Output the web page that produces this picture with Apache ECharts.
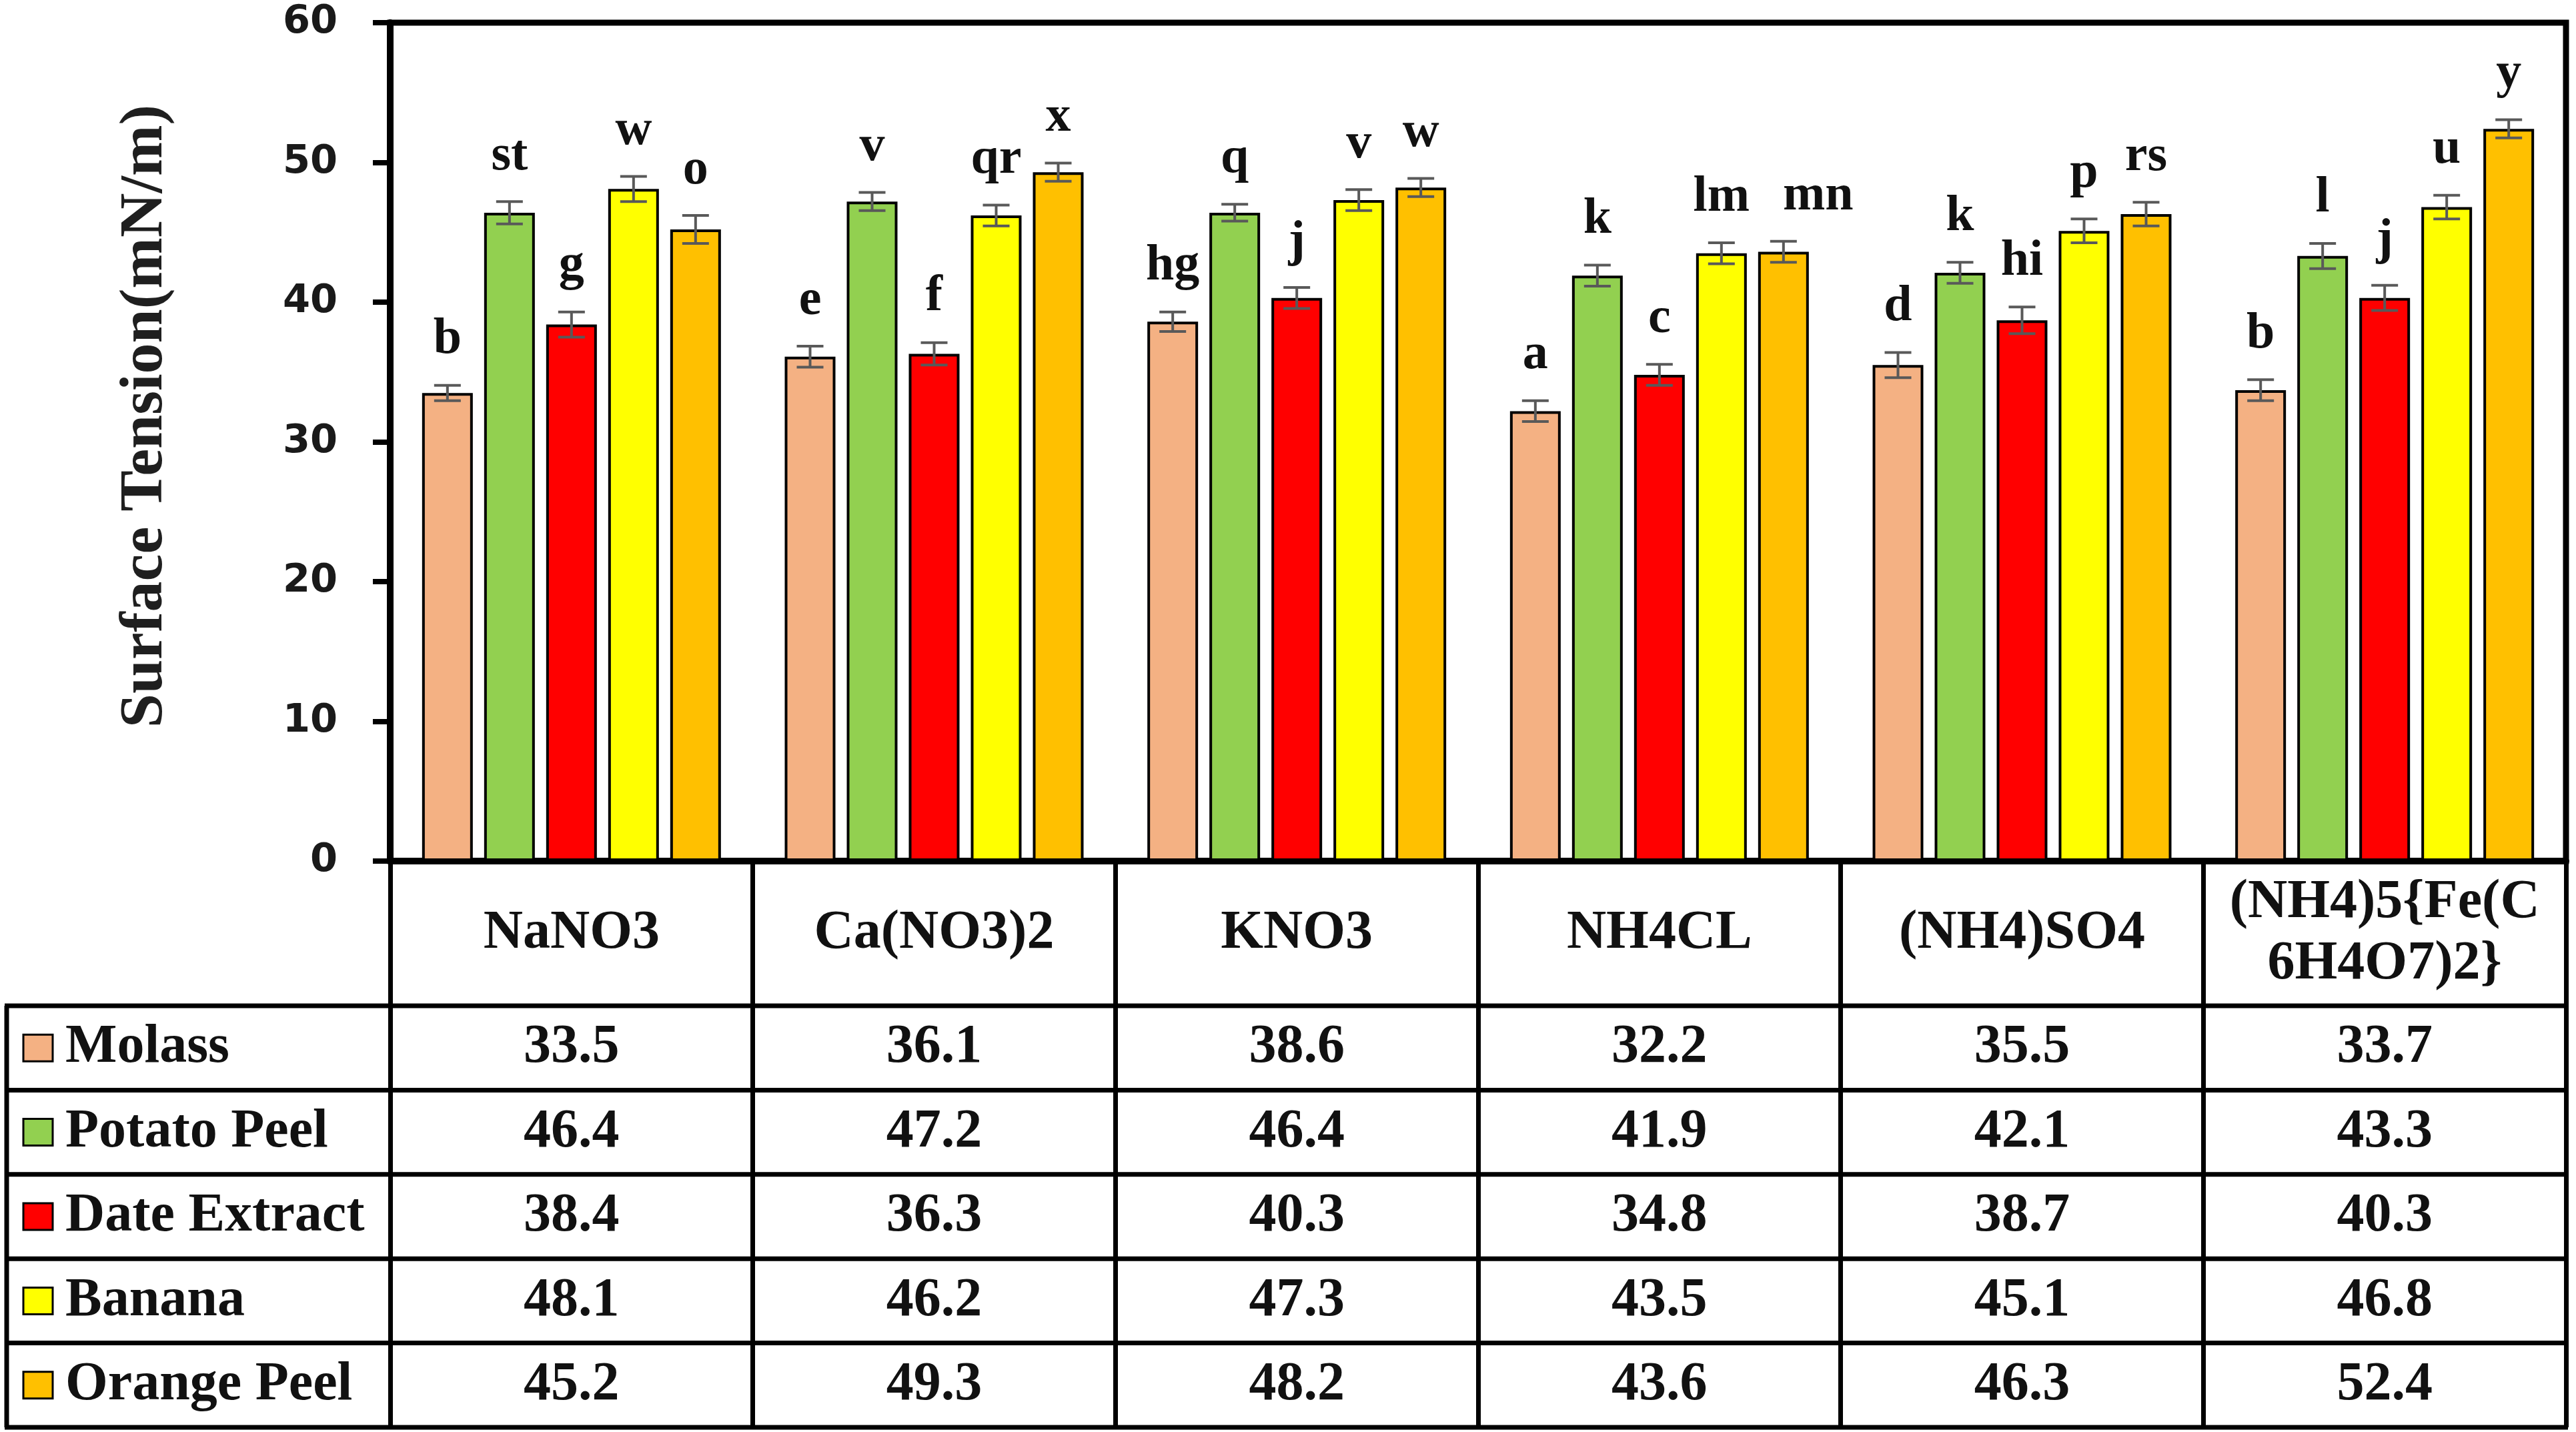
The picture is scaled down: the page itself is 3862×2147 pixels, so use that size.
<!DOCTYPE html>
<html>
<head>
<meta charset="utf-8">
<title>Surface Tension</title>
<script src="https://cdn.jsdelivr.net/npm/echarts@6/dist/echarts.min.js"></script>
<style>
  html, body { margin: 0; padding: 0; background: #fff; }
  #chart { width: 3862px; height: 2147px; }
</style>
</head>
<body>
<div id="chart"></div>
<script>
// data
const categories = ['NaNO3', 'Ca(NO3)2', 'KNO3', 'NH4CL', '(NH4)SO4', '(NH4)5{Fe(C6H4O7)2}'];
const seriesNames = ['Molass', 'Potato Peel', 'Date Extract', 'Banana', 'Orange Peel'];
const colors = ['#F4B183', '#92D050', '#FF0000', '#FFFF00', '#FFC000'];

const molass      = [33.5, 36.1, 38.6, 32.2, 35.5, 33.7];
const potatoPeel  = [46.4, 47.2, 46.4, 41.9, 42.1, 43.3];
const dateExtract = [38.4, 36.3, 40.3, 34.8, 38.7, 40.3];
const banana      = [48.1, 46.2, 47.3, 43.5, 45.1, 46.8];
const orangePeel  = [45.2, 49.3, 48.2, 43.6, 46.3, 52.4];

// error bars (half length)
const errMolass = [0.55, 0.75, 0.7, 0.75, 0.9, 0.75];
const errPotato = [0.8, 0.65, 0.6, 0.75, 0.75, 0.9];
const errDate   = [0.9, 0.8, 0.75, 0.75, 0.95, 0.9];
const errBanana = [0.9, 0.75, 0.75, 0.75, 0.85, 0.85];
const errOrange = [1.0, 0.65, 0.65, 0.75, 0.85, 0.65];

// significance letters
const letMolass = ['b', 'e', 'hg', 'a', 'd', 'b'];
const letPotato = ['st', 'v', 'q', 'k', 'k', 'l'];
const letDate   = ['g', 'f', 'j', 'c', 'hi', 'j'];
const letBanana = ['w', 'qr', 'v', 'lm', 'p', 'u'];
const letOrange = ['o', 'x', 'w', 'mn', 'rs', 'y'];

const yTicks = [0, 10, 20, 30, 40, 50, 60];

const values  = [molass, potatoPeel, dateExtract, banana, orangePeel];
const errs    = [errMolass, errPotato, errDate, errBanana, errOrange];
const letters = [letMolass, letPotato, letDate, letBanana, letOrange];

// layout
const SERIF = '"Liberation Serif", "Times New Roman", serif';
const SANS = '"DejaVu Sans", sans-serif';
const GRID_L = 585, GRID_R = 15, GRID_T = 34;
const ZERO_Y = 1291;
const HEAD_B = 1508, TABLE_B = 2140;
const ROW_H = (TABLE_B - HEAD_B) / 5;
const TABLE_L = 10, TABLE_R = 3862 - GRID_R;
const BAR_W = 76, BAR_GAP = 17;
const CAP = 20;
const ERR_C = '#595959';
const TXT = 82;
const LET_SIZE = 76;

// letters that would touch their left neighbour get nudged right
const measureCtx = document.createElement('canvas').getContext('2d');
measureCtx.font = 'bold ' + LET_SIZE + 'px ' + SERIF;
const textW = t => measureCtx.measureText(t).width;

function letterX(i, s, api) {
  let prevRight = null, prevY = 0, x = 0;
  for (let t = 0; t <= s; t++) {
    const top = api.coord([i, values[t][i] + errs[t][i]]);
    const w = textW(letters[t][i]);
    x = top[0] + (t - 2) * (BAR_W + BAR_GAP);
    if (prevRight !== null && Math.abs(top[1] - prevY) < 40 && x - w / 2 < prevRight + 10) {
      x = prevRight + 50 + w / 2;
    }
    prevRight = x + w / 2;
    prevY = top[1];
  }
  return x;
}

const myChart = echarts.init(document.getElementById('chart'));

const barSeries = values.map((v, s) => ({
  name: seriesNames[s],
  type: 'bar',
  data: v,
  barWidth: BAR_W,
  barGap: (BAR_GAP / BAR_W * 100) + '%',
  itemStyle: { color: colors[s], borderColor: '#000', borderWidth: 4 },
  z: 2
}));

const errSeries = values.map((v, s) => ({
  name: seriesNames[s] + ' err',
  type: 'custom',
  z: 4,
  data: v.map((val, i) => [i, val, errs[s][i]]),
  encode: { x: 0, y: 1 },
  renderItem: function (params, api) {
    const i = api.value(0), val = api.value(1), e = api.value(2);
    const dx = (s - 2) * (BAR_W + BAR_GAP);
    const top = api.coord([i, val + e]);
    const bot = api.coord([i, val - e]);
    const x = top[0] + dx;
    const ls = { stroke: ERR_C, lineWidth: 4 };
    return {
      type: 'group',
      children: [
        { type: 'line', shape: { x1: x, y1: top[1], x2: x, y2: bot[1] }, style: ls },
        { type: 'line', shape: { x1: x - CAP, y1: top[1], x2: x + CAP, y2: top[1] }, style: ls },
        { type: 'line', shape: { x1: x - CAP, y1: bot[1], x2: x + CAP, y2: bot[1] }, style: ls },
        {
          type: 'text', x: letterX(i, s, api), y: top[1] - 30,
          style: {
            text: letters[s][params.dataIndex],
            fill: '#111', fontSize: LET_SIZE, fontWeight: 'bold', fontFamily: SERIF,
            align: 'center', verticalAlign: 'bottom'
          }
        }
      ]
    };
  }
}));

// header axis + one hidden-line axis per table row
const xAxes = [{
  type: 'category',
  data: categories,
  axisLine: { show: true, lineStyle: { color: '#000', width: 10 } },
  axisTick: { show: true, interval: 0, length: TABLE_B - ZERO_Y, lineStyle: { color: '#000', width: 7 } },
  axisLabel: {
    interval: 0, margin: (HEAD_B - ZERO_Y) / 2, verticalAlign: 'middle',
    fontFamily: SERIF, fontWeight: 'bold', fontSize: TXT, color: '#111', lineHeight: 92,
    formatter: name => name.length > 12 ? name.slice(0, 11) + '\n' + name.slice(11) : name
  }
}];
values.forEach((v, s) => {
  xAxes.push({
    type: 'category',
    data: categories,
    position: 'bottom',
    offset: HEAD_B + ROW_H * (s + 0.5) - ZERO_Y,
    axisLine: { show: false },
    axisTick: { show: false },
    axisLabel: {
      interval: 0, margin: 0, verticalAlign: 'middle',
      fontFamily: SERIF, fontWeight: 'bold', fontSize: TXT, color: '#111',
      formatter: (val, idx) => v[idx].toFixed(1)
    }
  });
});

// table rules, legend column and y title
const graphics = [];
for (let k = 0; k <= 5; k++) {
  const y = HEAD_B + ROW_H * k;
  graphics.push({ type: 'line', shape: { x1: TABLE_L - 3, y1: y, x2: TABLE_R + 3, y2: y }, style: { stroke: '#000', lineWidth: 7 } });
}
graphics.push({ type: 'line', shape: { x1: TABLE_L, y1: HEAD_B, x2: TABLE_L, y2: TABLE_B }, style: { stroke: '#000', lineWidth: 7 } });
seriesNames.forEach((n, s) => {
  const cy = HEAD_B + ROW_H * (s + 0.5);
  graphics.push({ type: 'rect', shape: { x: 35, y: cy - 20, width: 44, height: 40 }, style: { fill: colors[s], stroke: '#000', lineWidth: 3 } });
  graphics.push({
    type: 'text', x: 98, y: cy,
    style: { text: n, fill: '#111', fontSize: TXT, fontWeight: 'bold', fontFamily: SERIF, align: 'left', verticalAlign: 'middle' }
  });
});
graphics.push({
  type: 'text', x: 218, y: 624, rotation: Math.PI / 2,
  style: { text: 'Surface Tension(mN/m)', fill: '#1f1f1f', fontSize: 92, fontWeight: 'bold', fontFamily: SERIF, align: 'center', verticalAlign: 'middle' }
});

myChart.setOption({
  animation: false,
  backgroundColor: '#fff',
  grid: {
    left: GRID_L, right: GRID_R, top: GRID_T, bottom: 2147 - ZERO_Y,
    show: true, borderColor: '#000', borderWidth: 9
  },
  xAxis: xAxes,
  yAxis: {
    type: 'value',
    min: yTicks[0], max: yTicks[yTicks.length - 1], interval: yTicks[1] - yTicks[0],
    axisLine: { show: true, lineStyle: { color: '#000', width: 10 } },
    axisTick: { show: true, length: 26, lineStyle: { color: '#000', width: 8 } },
    splitLine: { show: false },
    axisLabel: { margin: 79, fontFamily: SANS, fontWeight: 'bold', fontSize: 59, color: '#1a1a1a' }
  },
  series: barSeries.concat(errSeries),
  graphic: graphics
});
</script>
</body>
</html>
